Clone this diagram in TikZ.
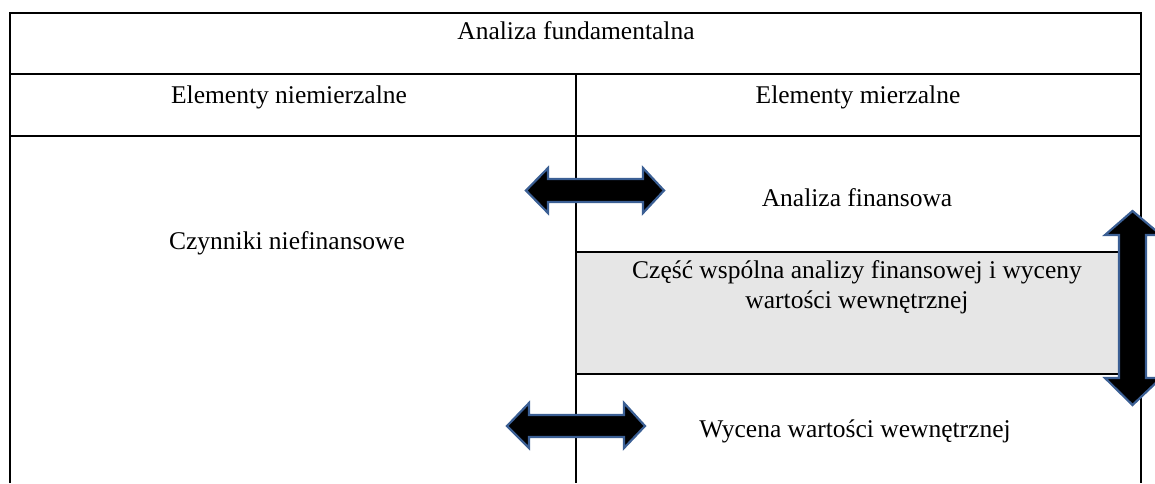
\documentclass[tikz,border=0pt]{standalone}
\usepackage{fontspec}
\setmainfont{Liberation Serif}
\definecolor{bandgray}{HTML}{E6E6E6}
\definecolor{rim}{HTML}{3B5F94}
\tikzset{
  rule/.style={line width=2.4pt, black},
  label/.style={font=\fontsize{25.5}{30}\selectfont, inner sep=0pt, align=center},
  blockarrow/.style={fill=black, draw=rim, line width=2.2pt, line join=miter},
}
\begin{document}
\begin{tikzpicture}[x=1pt, y=-1pt]
\useasboundingbox (0,0) rectangle (1155,483);
% grey overlap band
\fill[bandgray] (576,252) rectangle (1120,374);
% table rules
\draw[rule] (10,483) -- (10,13) -- (1141,13) -- (1141,483);
\draw[rule] (10,74) -- (1141,74);
\draw[rule] (10,136) -- (1141,136);
\draw[rule] (576,74) -- (576,483);
\draw[rule] (576,252) -- (1120,252);
\draw[rule] (576,374) -- (1120,374);
% texts
\node[label] (title) at (576,31) {Analiza fundamentalna};
\node[label] (nonmeas) at (289,97) {Elementy niemierzalne};
\node[label] (meas) at (858,97) {Elementy mierzalne};
\node[label] (nonfin) at (287,243) {Czynniki niefinansowe};
\node[label] (fin) at (857,198) {Analiza finansowa};
\node[label] (common) at (857,287) {Część wspólna analizy finansowej i wyceny\\wartości wewnętrznej};
\node[label] (intr) at (855,431) {Wycena wartości wewnętrznej};
% double block arrows
\draw[blockarrow] (526,190.5) -- (548,168) -- (548,179) -- (643,179) -- (643,168)
  -- (664,190.5) -- (643,213) -- (643,202) -- (548,202) -- (548,213) -- cycle;
\draw[blockarrow] (507,426) -- (529,403) -- (529,415) -- (624,415) -- (624,403)
  -- (645,426) -- (624,448) -- (624,437) -- (529,437) -- (529,448) -- cycle;
\draw[blockarrow] (1132.5,211) -- (1161,235) -- (1146,235) -- (1146,378) -- (1161,378)
  -- (1132.5,405) -- (1105,378) -- (1119,378) -- (1119,235) -- (1105,235) -- cycle;
\end{tikzpicture}
\end{document}
